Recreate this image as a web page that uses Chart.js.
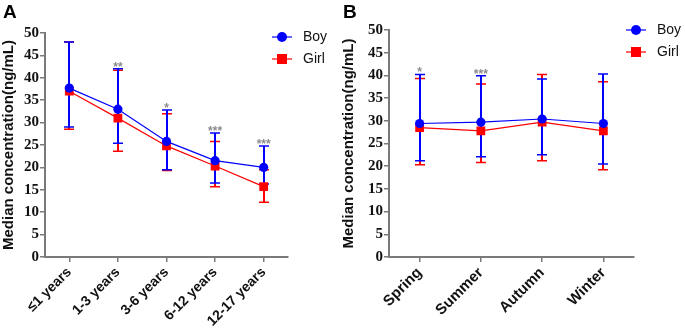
<!DOCTYPE html>
<html lang="en">
<head>
  <meta charset="UTF-8" />
  <title>Median concentration by age and season</title>
  <script src="https://cdn.jsdelivr.net/npm/chart.js"></script>
  <style>
    body { margin: 0; background: #fff; }
    .panel { position: absolute; top: 0; }
    .tag { position: absolute; top: 1px; font: bold 19px "Liberation Sans", Arial, sans-serif; color: #000; }
  </style>
</head>
<body>
  <canvas id="chartA" class="panel" width="340" height="331" style="left:0"></canvas>
  <canvas id="chartB" class="panel" width="345" height="331" style="left:340px"></canvas>
  <div class="tag" style="left:3px">A</div>
  <div class="tag" style="left:343px">B</div>

  <script>
    // Panel A: by age group
    const ageGroups = ['≤1 years', '1-3 years', '3-6 years', '6-12 years', '12-17 years'];
    const boyAge = [37.7, 33.0, 25.8, 21.5, 20.0];
    const boyAgeLow = [29.0, 25.4, 19.5, 16.5, 16.3];
    const boyAgeHigh = [48.0, 42.0, 32.8, 27.7, 24.8];
    const girlAge = [37.0, 31.0, 24.8, 20.3, 15.7];
    const girlAgeLow = [28.5, 23.6, 19.3, 15.7, 12.2];
    const girlAgeHigh = [48.0, 41.7, 32.0, 25.8, 19.5];
    const ageSig = ['', '**', '*', '***', '***'];

    // Panel B: by season
    const seasons = ['Spring', 'Summer', 'Autumn', 'Winter'];
    const boySeason = [29.4, 29.7, 30.4, 29.4];
    const boySeasonLow = [21.2, 22.1, 22.5, 20.5];
    const boySeasonHigh = [40.2, 39.9, 39.2, 40.3];
    const girlSeason = [28.5, 27.8, 29.7, 27.8];
    const girlSeasonLow = [20.3, 20.8, 21.2, 19.2];
    const girlSeasonHigh = [39.3, 38.1, 40.2, 38.6];
    const seasonSig = ['*', '***', '', ''];

    const yTicks = { min: 0, max: 50, step: 5 };

    const BLUE = '#0000ff';
    const RED = '#ff0000';
    const AXIS = '#7a7a7a';

    // vertical error bars with caps, plus significance stars
    const errorBars = {
      id: 'errorBars',
      beforeDatasetsDraw(chart, args, opts) {
        const { ctx } = chart;
        const x = chart.scales.x, y = chart.scales.y;
        ctx.save();
        [1, 0].forEach(i => {
          const ds = chart.data.datasets[i];
          ctx.strokeStyle = ds.borderColor;
          ds.low.forEach((lo, j) => {
            const px = Math.round(x.getPixelForValue(j));
            const p1 = y.getPixelForValue(lo);
            const p2 = y.getPixelForValue(ds.high[j]);
            ctx.lineWidth = 2;
            ctx.beginPath();
            ctx.moveTo(px, p1); ctx.lineTo(px, p2);
            ctx.stroke();
            ctx.lineWidth = 1.5;
            ctx.beginPath();
            ctx.moveTo(px - 5, p1); ctx.lineTo(px + 5, p1);
            ctx.moveTo(px - 5, p2); ctx.lineTo(px + 5, p2);
            ctx.stroke();
          });
        });
        // stars above the higher cap
        ctx.fillStyle = '#8c8c8c';
        ctx.font = 'bold 12px "Liberation Sans", Arial, sans-serif';
        ctx.textAlign = 'center';
        ctx.textBaseline = 'alphabetic';
        opts.sig.forEach((s, j) => {
          if (!s) return;
          const top = Math.max(chart.data.datasets[0].high[j], chart.data.datasets[1].high[j]);
          const px = x.getPixelForValue(j);
          ctx.fillText(s, px, y.getPixelForValue(top) + 2);
        });
        ctx.restore();
      }
    };

    // legend with line + marker, drawn at a fixed spot right of the plot
    const sideLegend = {
      id: 'sideLegend',
      afterDraw(chart, args, opts) {
        const { ctx } = chart;
        ctx.save();
        chart.data.datasets.forEach((ds, i) => {
          const cy = opts.y + i * 22;
          ctx.strokeStyle = ds.borderColor;
          ctx.lineWidth = 1.2;
          ctx.beginPath();
          ctx.moveTo(opts.x - 10, cy); ctx.lineTo(opts.x + 10, cy);
          ctx.stroke();
          ctx.fillStyle = ds.borderColor;
          if (ds.pointStyle === 'rect') {
            ctx.fillRect(opts.x - 5, cy - 5, 10, 10);
          } else {
            ctx.beginPath();
            ctx.arc(opts.x, cy, 5, 0, Math.PI * 2);
            ctx.fill();
          }
          ctx.fillStyle = '#111';
          ctx.font = '14px "Liberation Sans", Arial, sans-serif';
          ctx.textAlign = 'left';
          ctx.textBaseline = 'middle';
          ctx.fillText(ds.label, opts.x + 21, cy);
        });
        ctx.restore();
      }
    };

    function makeChart(id, labels, boy, boyLow, boyHigh, girl, girlLow, girlHigh, sig, geo) {
      return new Chart(document.getElementById(id), {
        type: 'line',
        data: {
          labels: labels,
          datasets: [
            {
              label: 'Boy', data: boy, low: boyLow, high: boyHigh,
              borderColor: BLUE, backgroundColor: BLUE, borderWidth: 1.2,
              pointStyle: 'circle', pointRadius: 4.6, pointBorderWidth: 0
            },
            {
              label: 'Girl', data: girl, low: girlLow, high: girlHigh,
              borderColor: RED, backgroundColor: RED, borderWidth: 1.2,
              pointStyle: 'rect', pointRadius: 6.2, pointBorderWidth: 0
            }
          ]
        },
        options: {
          responsive: false,
          animation: false,
          layout: { padding: { top: geo.top, right: geo.right, left: 0, bottom: 0 } },
          plugins: {
            legend: { display: false },
            tooltip: { enabled: false },
            errorBars: { sig: sig },
            sideLegend: { x: geo.legendX, y: geo.legendY }
          },
          scales: {
            x: {
              type: 'category',
              offset: true,
              afterFit(s) { s.height = 74; },
              border: { display: true, color: AXIS, width: 2 },
              grid: { display: true, drawOnChartArea: false, drawTicks: true, tickLength: 5, color: AXIS, lineWidth: 1.5, offset: false },
              ticks: {
                autoSkip: false, maxRotation: 45, minRotation: 45, padding: 2,
                color: '#111', font: { family: '"Liberation Sans", Arial, sans-serif', weight: 'bold', size: geo.xFont }
              }
            },
            y: {
              min: yTicks.min, max: yTicks.max,
              afterFit(s) { s.width = geo.left; },
              border: { display: true, color: AXIS, width: 2 },
              grid: { display: true, drawOnChartArea: false, drawTicks: true, tickLength: 5, color: AXIS, lineWidth: 1.5 },
              ticks: {
                stepSize: yTicks.step, padding: 1,
                color: '#111', font: { family: '"Liberation Serif", "Times New Roman", serif', weight: 'bold', size: 15 }
              },
              title: {
                display: true, text: 'Median concentration(ng/mL)', padding: 0,
                color: '#111', font: { family: '"Liberation Sans", Arial, sans-serif', weight: 'bold', size: 15 }
              }
            }
          }
        },
        plugins: [errorBars, sideLegend]
      });
    }

    makeChart('chartA', ageGroups, boyAge, boyAgeLow, boyAgeHigh, girlAge, girlAgeLow, girlAgeHigh, ageSig,
      { top: 33, right: 52, left: 45, legendX: 282, legendY: 37, xFont: 14 });
    makeChart('chartB', seasons, boySeason, boySeasonLow, boySeasonHigh, girlSeason, girlSeasonLow, girlSeasonHigh, seasonSig,
      { top: 30, right: 51, left: 49, legendX: 296, legendY: 30, xFont: 15 });
  </script>
</body>
</html>
